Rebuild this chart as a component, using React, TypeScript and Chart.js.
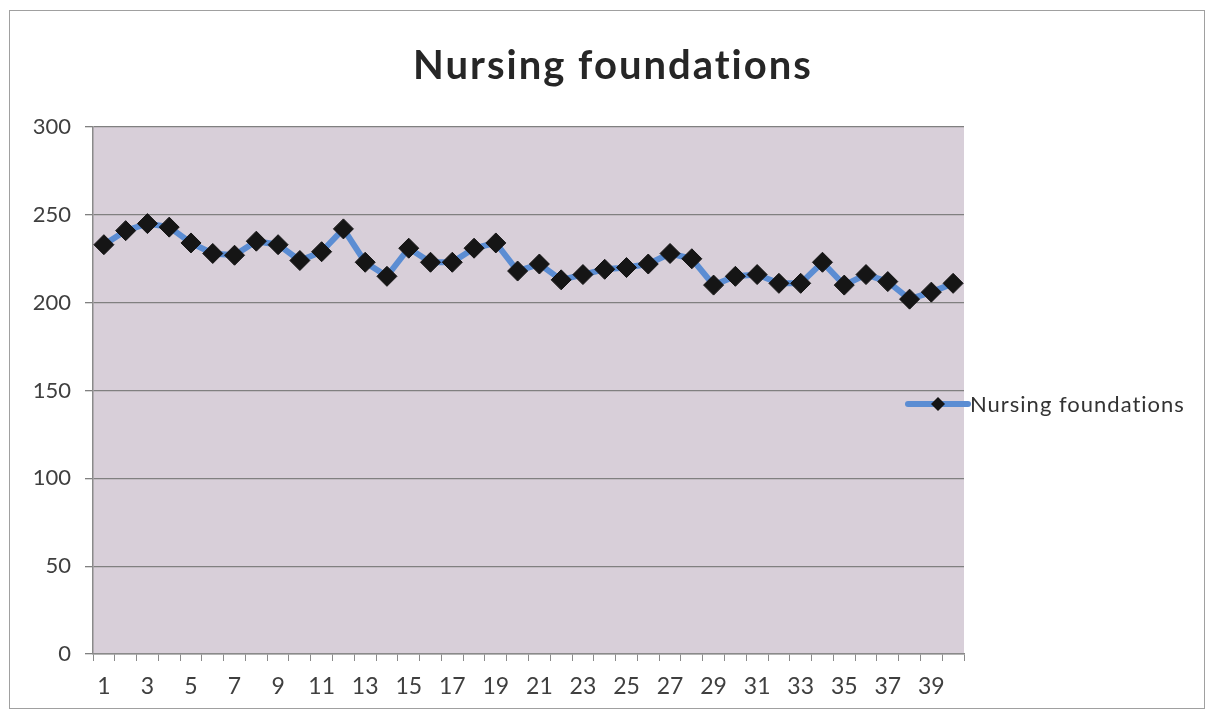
import React, { useEffect, useRef } from "react";
import { Chart, registerables } from "chart.js";

Chart.register(...registerables);

const chartTitle = "Nursing foundations";
const seriesName = "Nursing foundations";
const categories = [
  "1", "2", "3", "4", "5", "6", "7", "8", "9", "10",
  "11", "12", "13", "14", "15", "16", "17", "18", "19", "20",
  "21", "22", "23", "24", "25", "26", "27", "28", "29", "30",
  "31", "32", "33", "34", "35", "36", "37", "38", "39", "40",
];
const values = [
  233, 241, 245, 243, 234, 228, 227, 235, 233, 224,
  229, 242, 223, 215, 231, 223, 223, 231, 234, 218,
  222, 213, 216, 219, 220, 222, 228, 225, 210, 215,
  216, 211, 211, 223, 210, 216, 212, 202, 206, 211,
];
const yMin = 0;
const yMax = 300;
const yStep = 50;

const FONT = "Lato, 'Open Sans', sans-serif";

const decorPlugin = {
  id: "decor",
  beforeDraw(chart: any) {
    const { ctx, chartArea, width, height } = chart;
    ctx.save();
    ctx.fillStyle = "#ffffff";
    ctx.fillRect(0, 0, width, height);
    ctx.fillStyle = "#d8cfd9";
    ctx.fillRect(chartArea.left, chartArea.top, chartArea.right - chartArea.left, chartArea.bottom - chartArea.top);
    ctx.strokeStyle = "#a0a0a0";
    ctx.lineWidth = 1;
    ctx.strokeRect(9.5, 10.5, 1195, 698);
    ctx.restore();
  },
  afterDraw(chart: any) {
    const { ctx } = chart;
    const ds = chart.data.datasets[0];
    // title
    ctx.save();
    ctx.fillStyle = "#262626";
    ctx.font = `bold 40px ${FONT}`;
    (ctx as any).letterSpacing = "2px";
    ctx.textAlign = "center";
    ctx.textBaseline = "alphabetic";
    ctx.fillText(chartTitle, 613, 79);
    ctx.restore();
    // legend
    const x0 = 908;
    const x1 = 968;
    const y = 404;
    ctx.save();
    ctx.strokeStyle = ds.borderColor;
    ctx.lineWidth = ds.borderWidth;
    ctx.lineCap = "round";
    ctx.beginPath();
    ctx.moveTo(x0, y);
    ctx.lineTo(x1, y);
    ctx.stroke();
    const cx = (x0 + x1) / 2;
    const r = 7;
    ctx.fillStyle = ds.pointBackgroundColor;
    ctx.beginPath();
    ctx.moveTo(cx, y - r);
    ctx.lineTo(cx + r, y);
    ctx.lineTo(cx, y + r);
    ctx.lineTo(cx - r, y);
    ctx.closePath();
    ctx.fill();
    ctx.fillStyle = "#333333";
    ctx.font = `22px ${FONT}`;
    (ctx as any).letterSpacing = "1px";
    ctx.textBaseline = "alphabetic";
    ctx.textAlign = "left";
    ctx.fillText(ds.label, x1 + 2, y + 8);
    ctx.restore();
  },
};

export default function App() {
  const ref = useRef<HTMLCanvasElement | null>(null);

  useEffect(() => {
    document.body.style.margin = "0";
    if (!ref.current) return;
    const chart = new Chart(ref.current, {
      type: "line",
      data: {
        labels: categories,
        datasets: [
          {
            label: seriesName,
            data: values,
            borderColor: "#5b8dd3",
            borderWidth: 6,
            pointStyle: "rectRot",
            pointRadius: 10,
            pointHoverRadius: 10,
            pointBackgroundColor: "#151515",
            pointBorderColor: "#151515",
            pointBorderWidth: 1,
            tension: 0,
          },
        ],
      },
      options: {
        animation: false,
        responsive: true,
        maintainAspectRatio: false,
        layout: { padding: { top: 127, left: 20, right: 243, bottom: 0 } },
        plugins: {
          legend: { display: false },
          tooltip: { enabled: false },
          title: { display: false },
        },
        scales: {
          x: {
            type: "category",
            offset: true,
            afterFit: (s: any) => {
              s.height = 59;
            },
            grid: {
              offset: true,
              drawOnChartArea: false,
              drawTicks: true,
              tickLength: 7,
              color: "#8a8a8a",
            },
            border: { display: true, color: "#8a8a8a", width: 1.5 },
            ticks: {
              autoSkip: false,
              maxRotation: 0,
              padding: 12,
              color: "#3f3f3f",
              font: { family: FONT, size: 23 },
              callback: (_v: any, i: number) => (i % 2 === 0 ? categories[i] : ""),
            },
          },
          y: {
            min: yMin,
            max: yMax,
            afterFit: (s: any) => {
              s.width = 73;
            },
            grid: {
              color: "#808080",
              lineWidth: 1.3,
              tickLength: 8,
            },
            border: { display: true, color: "#8a8a8a", width: 1.5 },
            ticks: {
              stepSize: yStep,
              padding: 14,
              color: "#3f3f3f",
              font: { family: FONT, size: 22 },
            },
          },
        },
      },
      plugins: [decorPlugin],
    } as any);
    return () => chart.destroy();
  }, []);

  return (
    <div style={{ position: "fixed", left: 0, top: 0, width: 1207, height: 713 }}>
      <canvas ref={ref} />
    </div>
  );
}
